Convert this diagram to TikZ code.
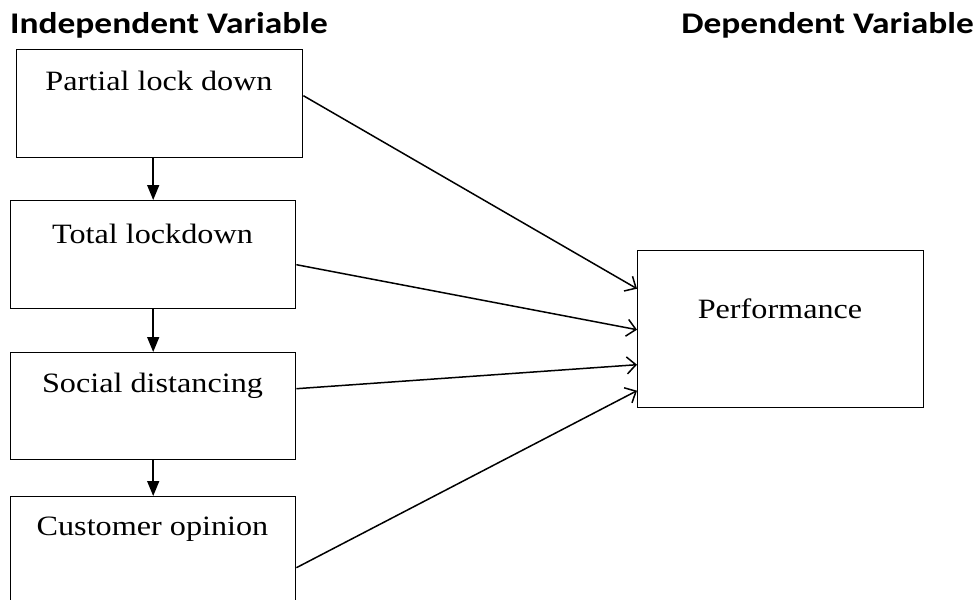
\documentclass[tikz,border=0pt]{standalone}
\usepackage{fontspec}
\setmainfont[FakeStretch=1.15]{Liberation Serif}
\newfontfamily\headfont[FakeStretch=1.18]{Carlito}
\usetikzlibrary{arrows.meta,calc}
\begin{document}
\begin{tikzpicture}[x=1pt,y=-1pt,
  box/.style={draw,line width=1.4pt,inner sep=0pt,anchor=north west},
  boxtext/.style={anchor=base,font=\fontsize{28}{30}\selectfont,inner sep=0pt},
  head/.style={anchor=base west,font=\headfont\bfseries\fontsize{30}{32}\selectfont,inner sep=0pt},
  down/.style={line width=1.5pt,-{Triangle[length=15pt,width=12pt]}},
  diag/.style={line width=1.5pt,-{Straight Barb[length=9pt,width=17pt,line width=1.5pt]}}]
\useasboundingbox (0,0) rectangle (978,600);
\fill[white] (0,0) rectangle (978,600);
\node[head] (hi) at (10,33) {Independent Variable};
\node[head,anchor=base east] (hd) at (974,33) {Dependent Variable};
\node[box,minimum width=286pt,minimum height=108pt] (b1) at (16,49) {};
\node[box,minimum width=285pt,minimum height=108pt] (b2) at (10,200) {};
\node[box,minimum width=285pt,minimum height=107pt] (b3) at (10,352) {};
\node[box,minimum width=285pt,minimum height=110pt] (b4) at (10,496) {};
\node[box,minimum width=286pt,minimum height=157pt] (p) at (637,250) {};
\node[boxtext] (t1) at (159,90) {Partial lock down};
\node[boxtext] (t2) at (152.5,243) {Total lockdown};
\node[boxtext] (t3) at (152.5,392) {Social distancing};
\node[boxtext] (t4) at (152.5,535) {Customer opinion};
\node[boxtext] (tp) at (780,318) {Performance};
\draw[down] (b1.south -| b2.north) -- (b2.north);
\draw[down] (b2.south) -- (b3.north);
\draw[down] (b3.south) -- (b4.north);
\draw[diag] ([yshift=8pt]b1.east) -- ([yshift=40.5pt]p.west);
\draw[diag] ([yshift=-10pt]b2.east) -- ([yshift=-0.5pt]p.west);
\draw[diag] ([yshift=17.5pt]b3.east) -- ([yshift=-35.5pt]p.west);
\draw[diag] ([yshift=-16pt]b4.east) -- ([yshift=-61.5pt]p.west);
\end{tikzpicture}
\end{document}
